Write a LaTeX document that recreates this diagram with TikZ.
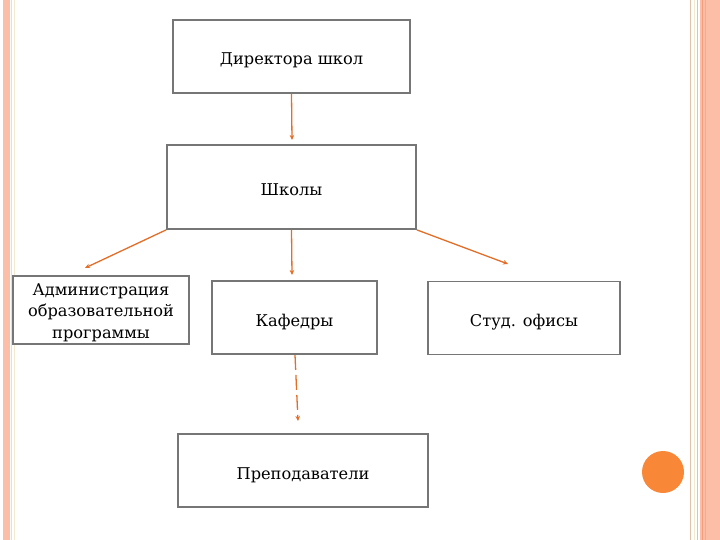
\documentclass[tikz,border=0pt]{standalone}
\usepackage{fontspec}
\setmainfont{DejaVu Serif}
\usetikzlibrary{arrows.meta}
\definecolor{salmon}{RGB}{252,190,166}
\definecolor{salmondk}{RGB}{244,156,124}
\definecolor{tanline}{RGB}{226,192,170}
\definecolor{cream}{RGB}{244,232,206}
\definecolor{lav}{RGB}{228,220,234}
\definecolor{boxgray}{RGB}{118,118,118}
\definecolor{arrowor}{RGB}{226,110,40}
\definecolor{dotor}{RGB}{248,136,56}
\tikzset{
  box/.style={draw=boxgray, line width=1.8pt, fill=white, inner sep=2pt, align=center, font=\fontsize{16.2}{21.5}\selectfont, text height=17pt, text depth=0pt},
  conn/.style={draw=arrowor, line width=1.3pt, -{Stealth[length=5pt,width=4.5pt]}},
}
\begin{document}
\begin{tikzpicture}[x=1pt,y=-1pt]
\useasboundingbox (0,0) rectangle (720,540);
\fill[white] (0,0) rectangle (720,540);
% left border
\fill[salmon] (3,0) rectangle (9.5,540);
\fill[lav] (11,0) rectangle (12.4,540);
\fill[cream] (14,0) rectangle (15.4,540);
% right border
\fill[tanline] (689.5,0) rectangle (691.2,540);
\fill[cream] (693.5,0) rectangle (695,540);
\fill[tanline] (696.5,0) rectangle (698.2,540);
\fill[salmon] (700,0) rectangle (720,540);
\fill[salmondk] (702,0) rectangle (703.4,540);
\fill[salmondk!60!salmon] (705,0) rectangle (706.2,540);
% circle
\fill[dotor] (663,472) circle (21);
% boxes
\node[box, minimum width=237pt, minimum height=73pt] (dir) at (291.5,56.5) {Директора школ};
\node[box, minimum width=249pt, minimum height=84pt] (shk) at (291.5,187) {Школы};
\node[box, minimum width=176pt, minimum height=68pt, text height=56pt, text depth=0pt] (adm) at (101,310) {Администрация\\образовательной\\программы};
\node[box, minimum width=165pt, minimum height=73pt] (kaf) at (294.5,317.5) {Кафедры};
\node[box, minimum width=192pt, minimum height=73pt] (stud) at (524,318) {Студ. офисы};
\node[box, minimum width=250pt, minimum height=73pt] (prep) at (303,470.5) {Преподаватели};
% free ends
\coordinate (e1) at (292,140);
\coordinate (e2) at (85,268);
\coordinate (e3) at (292,275);
\coordinate (e4) at (508,264);
\coordinate (e5s) at (295,355);
\coordinate (e5) at (298,421);
\draw[conn] (dir.south) -- (e1);
\draw[conn] (shk.south west) -- (e2);
\draw[conn] (shk.south) -- (e3);
\draw[conn] (shk.south east) -- (e4);
\draw[conn, dash pattern=on 15pt off 5pt] (e5s) -- (e5);
\end{tikzpicture}
\end{document}
